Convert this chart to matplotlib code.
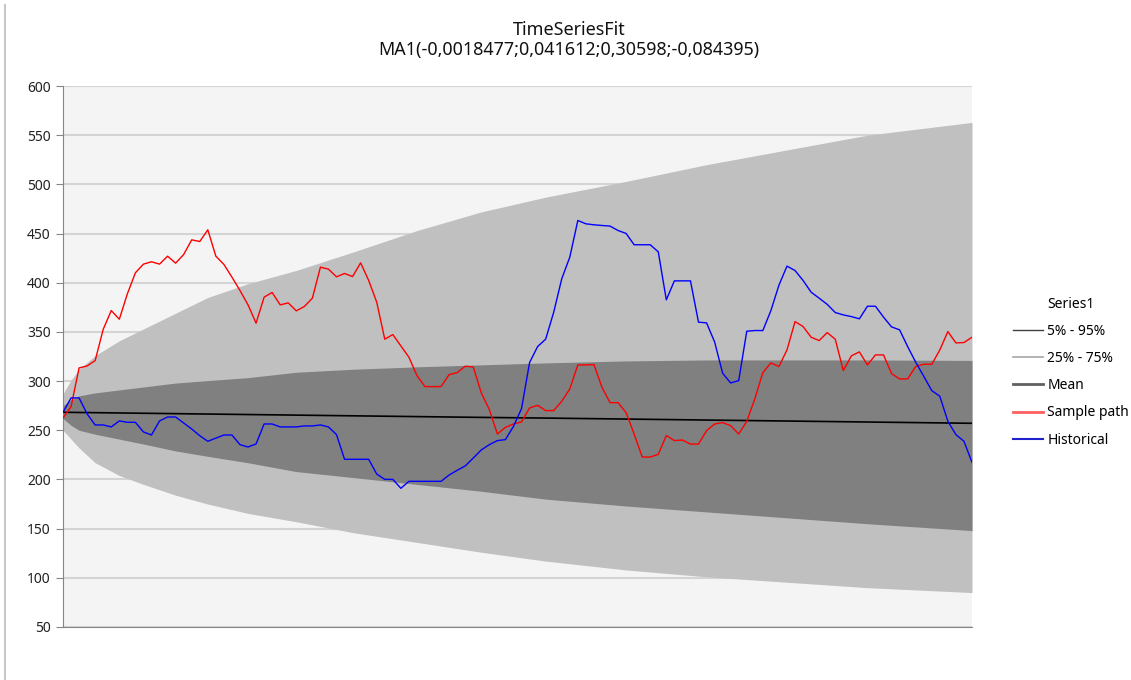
import matplotlib
matplotlib.use("Agg")
import matplotlib.pyplot as plt
from matplotlib.lines import Line2D
import numpy as np

# sample path (red) and historical (blue), one value per step
sample_path = [262.5, 274.0, 313.4, 315.4, 320.9, 352.7, 371.7, 362.9, 388.7, 410.1,
               418.9, 421.3, 418.9, 427.0, 419.9, 428.7, 443.6, 441.9, 453.8, 427.0,
               418.6, 405.7, 392.1, 377.5, 358.9, 385.3, 390.1, 377.5, 379.5, 371.4,
               375.8, 384.3, 415.8, 413.8, 406.0, 409.4, 406.3, 420.2, 402.3, 380.2,
               342.6, 347.3, 335.8, 324.3, 305.6, 294.4, 294.4, 294.4, 306.6, 308.6,
               315.1, 314.4, 288.0, 271.0, 246.2, 253.0, 256.4, 258.5, 272.7, 275.4,
               270.0, 270.0, 279.5, 292.0, 316.4, 316.4, 316.8, 293.7, 278.1, 278.1,
               267.9, 246.2, 222.8, 222.8, 225.5, 244.7, 239.5, 240.1, 236.0, 236.0,
               249.6, 256.4, 257.8, 254.7, 246.2, 259.1, 281.9, 308.6, 318.5, 314.8,
               331.7, 360.5, 355.5, 344.6, 341.2, 349.3, 342.6, 310.7, 325.6, 329.7,
               316.4, 326.6, 326.6, 307.6, 302.2, 302.2, 314.8, 317.1, 317.1, 331.7,
               350.4, 338.8, 339.2, 344.6]

historical = [268.3, 282.9, 282.9, 266.6, 255.4, 255.4, 253.4, 259.5, 258.1, 258.1,
              248.3, 245.2, 259.5, 263.5, 263.5, 257.4, 251.3, 244.5, 238.8, 242.0,
              245.2, 245.2, 235.4, 233.0, 236.1, 256.4, 256.4, 253.4, 253.4, 253.4,
              254.4, 254.4, 255.4, 253.4, 245.6, 220.5, 220.5, 220.5, 220.5, 205.5,
              200.1, 200.1, 191.0, 198.1, 198.1, 198.1, 198.1, 198.1, 204.5, 209.3,
              213.7, 221.8, 230.0, 235.4, 239.5, 240.5, 254.0, 272.0, 318.8, 335.1,
              342.6, 370.0, 404.0, 426.0, 463.3, 459.9, 458.9, 458.2, 457.6, 453.1,
              450.1, 438.6, 438.6, 438.6, 431.4, 382.6, 401.9, 401.9, 401.9, 359.9,
              359.2, 339.9, 308.0, 298.1, 300.5, 350.7, 351.4, 351.4, 371.7, 397.5,
              416.9, 412.4, 402.3, 390.4, 384.3, 378.0, 369.7, 367.3, 365.6, 363.3,
              376.1, 376.1, 365.0, 355.1, 352.1, 335.1, 319.2, 304.9, 290.3, 284.6,
              259.1, 245.6, 238.8, 217.4]

# forecast fan, read at these steps
band_steps = [0, 1, 2, 4, 7, 10, 14, 18, 23, 29, 36, 44, 52, 60, 70, 80, 90, 100, 113]
p95 = [287, 301, 312, 326, 341, 353, 369, 385, 399, 412.5, 431, 453, 472, 487, 503, 520, 535, 550, 563]
p75 = [275, 281, 285, 288, 291, 294, 298, 300.5, 303.5, 309, 312, 314.5, 316.5, 318.5, 320.5, 321.5, 321.5, 321.5, 321]
p25 = [262, 255, 250, 246, 241, 236, 229, 223.5, 217, 208, 202, 195, 188, 180, 173, 167, 161, 155, 148]
p5 = [250, 241, 232, 217, 204, 195, 184, 175, 165.5, 157, 146, 136, 126, 117, 108, 101, 95.5, 90, 85]
mean = [268.3, 268.2, 268.1, 267.9, 267.6, 267.3, 266.9, 266.5, 266.0, 265.4, 264.7, 263.9,
        263.1, 262.4, 261.4, 260.4, 259.4, 258.4, 257.1]

title = "TimeSeriesFit\nMA1(-0,0018477;0,041612;0,30598;-0,084395)"
legend_labels = ["5% - 95%", "25% - 75%", "Mean", "Sample path", "Historical"]

plt.rcParams['font.family'] = ['Noto Sans', 'DejaVu Sans']

W, H = 1131, 680
fig = plt.figure(figsize=(W / 100, H / 100), dpi=100)
fig.patch.set_facecolor("white")
ax = fig.add_axes([63 / W, 1 - 627 / H, (972 - 63) / W, (627 - 86) / H])
ax.set_facecolor("#F4F4F4")

# chart area border (left edge visible)
fig.add_artist(Line2D([5 / W, 5 / W], [0, 1 - 5 / H], transform=fig.transFigure,
                      color="#C8C8C8", lw=1.5))

steps = np.arange(len(sample_path))
ax.fill_between(band_steps, p5, p95, color="#C0C0C0", lw=0, zorder=2)
ax.fill_between(band_steps, p25, p75, color="#808080", lw=0, zorder=3)
ax.plot(band_steps, mean, color="#000000", lw=1.2, zorder=4)
ax.plot(steps, sample_path, color="#FF0000", lw=1.0, zorder=5)
ax.plot(steps, historical, color="#0000FF", lw=1.0, zorder=6)

ax.set_xlim(0, len(sample_path) - 1)
ax.set_ylim(50, 600)
ax.set_yticks(np.arange(50, 601, 50))
ax.yaxis.grid(True, color="#D4D4D4", lw=1.5, zorder=1)
ax.set_axisbelow(True)
ax.set_xticks([])
for s in ["top", "right"]:
    ax.spines[s].set_visible(False)
ax.spines["left"].set_color("#868686")
ax.spines["bottom"].set_color("#868686")
ax.tick_params(axis="y", length=5, color="#868686", labelsize=10, pad=4, labelcolor="#222222")

fig.text(569 / W, 1 - 40 / H, title, ha="center", va="center", fontsize=12.9,
         color="#111111", linespacing=1.1)

handles = [
    Line2D([], [], color="#404040", lw=1.0),
    Line2D([], [], color="#A6A6A6", lw=1.2),
    Line2D([], [], color="#606060", lw=2.0),
    Line2D([], [], color="#FF6060", lw=2.0),
    Line2D([], [], color="#2020D0", lw=1.5),
]
leg = fig.legend(handles, legend_labels, title="Series1", loc="upper left",
                 bbox_to_anchor=(1000 / W, 1 - 284 / H), frameon=False,
                 fontsize=10, title_fontsize=10, handlelength=2.2,
                 handletextpad=0.3, labelspacing=0.88)

fig.savefig("out.png", dpi=100, facecolor="white")
